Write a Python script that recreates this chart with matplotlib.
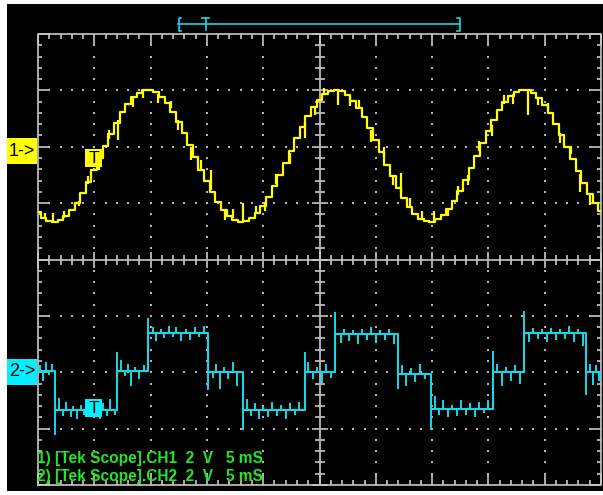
import numpy as np
import matplotlib
matplotlib.use("Agg")
import matplotlib.pyplot as plt
from matplotlib.patches import Rectangle
from matplotlib.lines import Line2D
from matplotlib.collections import LineCollection

W, H = 603, 495

# ---------------- data ----------------
# time axis: 5 ms/div, 10 divisions
t_ms = np.arange(0, 50.01, 0.5)

# CH1 (yellow) in volts relative to CH1 ground, 2 V/div
ch1_volts = [
    -2.33, -2.52, -2.63, -2.66, -2.60, -2.47, -2.26, -1.98, -1.64, -1.25,
    -0.84, -0.40, 0.04, 0.46, 0.86, 1.22, 1.52, 1.76, 1.92, 2.01,
    2.01, 1.93, 1.77, 1.54, 1.24, 0.89, 0.49, 0.07, -0.37, -0.81,
    -1.23, -1.62, -1.96, -2.24, -2.46, -2.60, -2.66, -2.64, -2.53, -2.35,
    -2.10, -1.78, -1.41, -1.00, -0.58, -0.14, 0.30, 0.71, 1.08, 1.41,
    1.67, 1.87, 1.98, 2.02, 1.97, 1.84, 1.64, 1.37, 1.04, 0.66,
    0.25, -0.19, -0.63, -1.05, -1.46, -1.82, -2.13, -2.37, -2.55, -2.65,
    -2.66, -2.58, -2.43, -2.21, -1.92, -1.57, -1.18, -0.76, -0.32, 0.12,
    0.55, 0.94, 1.29, 1.58, 1.80, 1.95, 2.02, 2.00, 1.91, 1.73,
    1.49, 1.18, 0.82, 0.42, 0.00, -0.44, -0.87, -1.28, -1.66, -2.00,
    -2.28,
]
# glitches on CH1: time (ms) and excursion from the trace (V)
ch1_glitch_t = [
    1.3, 7.1, 13.6, 15.4, 18.2, 23.7, 26.6, 32.2, 33.0, 43.5, 48.1, 49.0,
    0.6, 2.3, 3.6, 4.4, 5.4, 6.3, 8.4, 9.3, 10.7, 11.8, 12.4, 14.5,
    16.6, 17.3, 19.4, 20.2, 21.1, 22.4, 24.6, 25.4, 27.7, 28.5, 29.6,
    30.7, 31.5, 34.1, 35.2, 36.4, 37.3, 38.2, 39.2, 40.3, 41.4, 42.2,
    44.4, 45.3, 46.4, 47.3,
]
ch1_glitch_dv = [
    0.30, -0.70, -0.45, 0.70, 0.64, -0.55, -0.53, 0.66, 0.30, -0.87, -0.65, -0.40,
    0.20, 0.25, -0.20, 0.30, -0.35, 0.30, -0.30, -0.25, -0.30, 0.25, -0.35, 0.35,
    -0.30, 0.35, 0.30, -0.30, 0.35, -0.40, -0.35, 0.25, -0.30, 0.30, -0.40,
    0.35, -0.30, 0.30, 0.35, -0.20, 0.30, -0.35, 0.35, -0.40, 0.30, -0.35,
    -0.30, 0.25, -0.35, 0.30,
]

# CH2 (cyan) stepped waveform, volts relative to CH2 ground
ch2_edge_t = [0.0, 1.5, 7.0, 9.8, 15.1, 18.2, 23.7, 26.4, 32.0, 34.9, 40.4, 43.2, 48.7, 50.0]
ch2_level_v = [0.05, -1.35, 0.05, 1.40, 0.0, -1.35, 0.0, 1.35, -0.05, -1.30, 0.0, 1.38, 0.0, 0.0]
# glitches on CH2: time (ms) and excursion from the level (V)
ch2_glitch_t = [
    1.5, 7.0, 9.8, 15.1, 18.2, 23.7, 26.4, 32.0, 34.9, 40.4, 43.2, 48.7,
    0.15, 0.4, 0.7, 0.95, 1.2,
    1.9, 2.2, 2.5, 2.9, 3.1, 3.5, 3.8, 4.1, 4.4, 4.8, 5.1, 5.5, 5.8, 6.1, 6.4, 6.8,
    7.4, 7.7, 8.0, 8.3, 8.6, 9.0, 9.4,
    10.2, 10.5, 10.9, 11.2, 11.6, 12.0, 12.3, 12.7, 13.1, 13.5, 13.9, 14.3, 14.7,
    15.5, 15.8, 16.2, 16.5, 16.9, 17.3, 17.7,
    18.6, 18.9, 19.3, 19.6, 20.0, 20.4, 20.8, 21.2, 21.6, 22.0, 22.4, 22.8, 23.2,
    24.0, 24.4, 24.8, 25.2, 25.6, 26.0,
    26.9, 27.2, 27.6, 28.0, 28.4, 28.8, 29.2, 29.6, 30.0, 30.4, 30.8, 31.2, 31.6,
    32.3, 32.7, 33.1, 33.5, 33.9, 34.4,
    35.3, 35.6, 36.0, 36.4, 36.8, 37.2, 37.6, 38.0, 38.4, 38.8, 39.2, 39.6, 40.0,
    40.8, 41.2, 41.6, 42.0, 42.4, 42.8,
    43.6, 44.0, 44.4, 44.8, 45.2, 45.6, 46.0, 46.4, 46.8, 47.2, 47.6, 48.0, 48.4,
    49.0, 49.3, 49.6, 49.85,
]
ch2_glitch_dv = [
    -0.88, 0.66, 0.51, -0.64, -0.71, 0.71, 0.78, -0.55, -0.76, 0.74, 0.78, -0.80,
    0.20, -0.35, 0.30, -0.15, 0.25,
    0.45, -0.20, 0.30, -0.25, 0.15, -0.30, 0.20, -0.15, 0.35, -0.25, 0.15, -0.30, 0.25, -0.20, 0.40, -0.15,
    0.40, -0.20, 0.25, -0.55, 0.15, -0.30, 0.20,
    0.20, -0.30, 0.15, -0.20, 0.25, -0.15, 0.20, -0.30, 0.15, -0.25, 0.20, -0.15, 0.25,
    -0.20, 0.30, -0.60, 0.20, -0.25, 0.35, -0.50,
    0.40, -0.20, 0.25, -0.30, 0.15, -0.25, 0.30, -0.20, 0.20, -0.30, 0.25, -0.15, 0.30,
    0.35, -0.25, 0.20, -0.40, 0.30, -0.20,
    -0.30, 0.20, -0.25, 0.15, -0.35, 0.20, -0.20, 0.25, -0.30, 0.15, -0.20, 0.20, -0.35,
    0.30, -0.45, 0.20, -0.30, 0.35, -0.20,
    0.45, -0.20, 0.30, -0.30, 0.15, -0.25, 0.30, -0.20, 0.20, -0.30, 0.25, -0.15, 0.30,
    0.30, -0.50, 0.20, -0.30, 0.25, -0.40,
    -0.30, 0.20, -0.20, 0.15, -0.30, 0.20, -0.25, 0.15, -0.20, 0.25, -0.30, 0.15, -0.45,
    0.30, -0.45, 0.25, -0.30,
]

ch1_offset_div = 2.0
ch2_offset_div = -2.0
volts_per_div = 2.0

label1 = "1) [Tek Scope].CH1  2  V   5 mS"
label2 = "2) [Tek Scope].CH2  2  V   5 mS"

# ---------------- colours ----------------
YEL = "#ffff00"
CYA = "#19d6e6"
CYA_BOX = "#00f0ff"
GC = "#c8c8c8"
DOT = "#b4b4b4"
GRN = "#22e622"

fig = plt.figure(figsize=(W / 100, H / 100), dpi=100)
fig.patch.set_facecolor("white")


def P(x, y):
    return (x / W, 1 - y / H)


fig.add_artist(Rectangle(P(7, 491), (W - 7) / W, (491 - 4) / H,
                         transform=fig.transFigure, facecolor="black",
                         edgecolor="none", zorder=0))

ax = fig.add_axes([38 / W, 1 - 485 / H, 563 / W, 451 / H])
ax.set_xlim(0, 50)
ax.set_ylim(-4, 4)
ax.axis("off")
ax.patch.set_visible(False)

PX = 50 / 563
PY = 8 / 451

# border
ax.plot([0, 50, 50, 0, 0], [-4, -4, 4, 4, -4], color=GC, lw=1.2,
        clip_on=False, zorder=2)
segs = []
for i in range(51):
    L = 11 if i % 5 == 0 else 5
    segs.append([(i, 4), (i, 4 - L * PY)])
    segs.append([(i, -4), (i, -4 + L * PY)])
    Lc = 8 if i % 5 == 0 else 5
    segs.append([(i, -Lc * PY), (i, Lc * PY)])
for j in range(41):
    y = -4 + 0.2 * j
    L = 12 if j % 5 == 0 else 4
    segs.append([(0, y), (L * PX, y)])
    segs.append([(50, y), (50 - L * PX, y)])
    Lc = 8 if j % 5 == 0 else 5
    segs.append([(25 - Lc * PX, y), (25 + Lc * PX, y)])
ax.add_collection(LineCollection(segs, colors=GC, linewidths=1.2, zorder=2,
                                 clip_on=False))
ax.plot([25, 25], [-4, 4], color=GC, lw=1.2, zorder=2)
ax.plot([0, 50], [0, 0], color=GC, lw=1.2, zorder=2)

# dotted graticule
dx, dy = [], []
for xv in [5, 10, 15, 20, 30, 35, 40, 45]:
    for j in range(1, 40):
        dx.append(xv)
        dy.append(-4 + 0.2 * j)
for yv in [-3, -2, -1, 1, 2, 3]:
    for i in range(1, 50):
        dx.append(i)
        dy.append(yv)
ax.scatter(dx, dy, s=1.8, marker="s", color=DOT, linewidths=0, zorder=2)

# CH1 trace
c1 = ch1_offset_div + np.array(ch1_volts) / volts_per_div
ax.plot(t_ms, c1, drawstyle="steps-mid", color=YEL, lw=1.6, zorder=4)
b1 = np.interp(ch1_glitch_t, t_ms, c1)
ax.vlines(ch1_glitch_t, b1, b1 + np.array(ch1_glitch_dv) / volts_per_div,
          color=YEL, lw=1.6, zorder=4)

# CH2 trace
c2 = ch2_offset_div + np.array(ch2_level_v) / volts_per_div
ax.plot(ch2_edge_t, c2, drawstyle="steps-post", color=CYA, lw=1.5, zorder=4)
idx = np.searchsorted(ch2_edge_t, ch2_glitch_t, side="right") - 1
b2 = c2[idx]
ax.vlines(ch2_glitch_t, b2, b2 + np.array(ch2_glitch_dv) / volts_per_div,
          color=CYA, lw=1.4, zorder=4)

# channel markers
for (y0, col, txt) in [(138, YEL, "1->"), (359, CYA_BOX, "2->")]:
    fig.add_artist(Rectangle(P(7, y0 + 26), 30 / W, 26 / H, transform=fig.transFigure,
                             facecolor=col, edgecolor="none", zorder=5))
    fig.text(22 / W, 1 - (y0 + 13) / H, txt, ha="center", va="center",
             fontsize=13, color="black", family="Liberation Sans", zorder=6)

# trigger T boxes
for (y0, col) in [(149, YEL), (399, CYA_BOX)]:
    fig.add_artist(Rectangle(P(85, y0 + 18), 17 / W, 18 / H, transform=fig.transFigure,
                             facecolor=col, edgecolor="none", zorder=5))
    fig.text(93.5 / W, 1 - (y0 + 9.5) / H, "T", ha="center", va="center",
             fontsize=12.5, color="black", family="Liberation Sans", zorder=6)

# top trigger/record bracket
def fl(xs, ys, **kw):
    fig.add_artist(Line2D([x / W for x in xs], [1 - y / H for y in ys],
                          transform=fig.transFigure, **kw))

fl([178, 460], [24, 24], color=CYA, lw=1.2)
fl([181, 178.5, 178.5, 181], [18, 18, 31, 31], color=CYA, lw=1.2)
fl([457, 459.5, 459.5, 457], [18, 18, 31, 31], color=CYA, lw=1.2)
fl([205.5, 205.5], [18, 30], color=CYA, lw=1.2)
fl([201.5, 209.5], [18, 18], color=CYA, lw=1.2)

# bottom labels
fig.text(37 / W, 1 - 459 / H, label1, color=GRN, fontsize=11.2, fontweight="bold",
         family="Liberation Sans", ha="left", va="center", zorder=6)
fig.text(37 / W, 1 - 477 / H, label2, color=GRN, fontsize=11.2, fontweight="bold",
         family="Liberation Sans", ha="left", va="center", zorder=6)

fig.savefig("out.png", dpi=100, facecolor="white")
